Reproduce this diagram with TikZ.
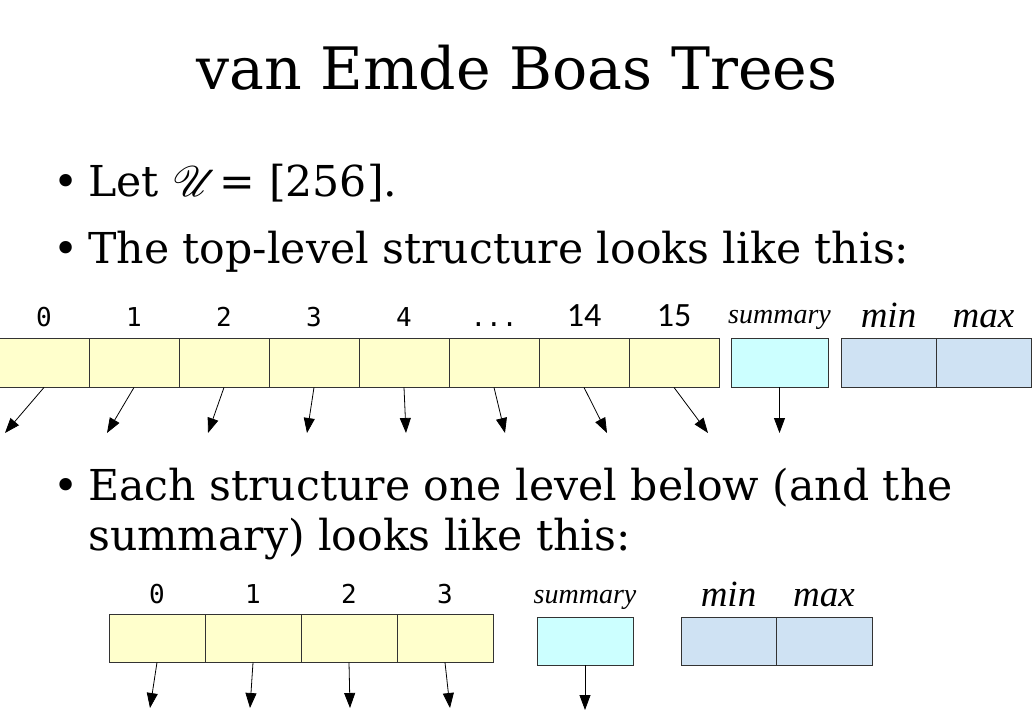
\documentclass[tikz,border=0pt]{standalone}
\usepackage{fontspec}
\usetikzlibrary{arrows.meta}
\setmainfont{DejaVu Serif}
\setmonofont{DejaVu Sans Mono}
\newfontfamily\slotfont{Liberation Serif}
\newfontfamily\widefont{Carlito}
\DeclareFontFamily{U}{vebrsfs}{\skewchar\font127 }
\DeclareFontShape{U}{vebrsfs}{m}{n}{<-> rsfs10}{}
\newcommand{\univ}{{\usefont{U}{vebrsfs}{m}{n}U}}
\definecolor{vebCluster}{HTML}{FFFFCC}
\definecolor{vebSummary}{HTML}{CCFFFF}
\definecolor{vebMinMax}{HTML}{CFE2F3}
\definecolor{vebEdge}{HTML}{333333}
\newcommand{\gapdots}{...}
\newcommand{\bigidx}[1]{{\widefont\fontsize{34}{34}\selectfont #1}}

\begin{document}
\begin{tikzpicture}[x=1pt, y=-1pt,
    cell/.style={draw=vebEdge, line width=0.9pt, inner sep=0pt, minimum height=48pt},
    idx/.style={anchor=base, inner sep=0pt, font=\fontsize{26}{26}\selectfont\ttfamily},
    slot/.style={anchor=base, inner sep=0pt, font=\fontsize{37}{37}\selectfont\slotfont\itshape},
    sumlab/.style={anchor=base, inner sep=0pt, font=\fontsize{28}{28}\selectfont\slotfont\itshape},
    ptr/.style={-{Triangle[length=15pt,width=11pt]}, line width=0.8pt},
    line/.style={anchor=base west, inner sep=0pt, font=\fontsize{42.6}{50}\selectfont}]
  \useasboundingbox (0,0) rectangle (1035,715);

  \node[anchor=base, inner sep=0pt, font=\fontsize{58.5}{58.5}\selectfont] (title) at (517,89) {van Emde Boas Trees};

  \node[line] (dot1) at (53,196) {\textbullet};
  \node[line] (txt1) at (88,196) {Let \univ{} = [256].};
  \node[line] (dot2) at (53,263) {\textbullet};
  \node[line] (txt2) at (88,263) {The top-level structure looks like this:};

  % top level: 16 clusters, summary, min/max
  \foreach \i/\lab/\tx in {0/0/5, 1/1/107, 2/2/208, 3/3/307, 4/4/406, 5/\gapdots/505, 6/\bigidx{14}/607, 7/\bigidx{15}/708} {
    \node[cell, fill=vebCluster, minimum width=90pt, minimum height=49pt] (top\i) at ({44+90*\i},362.5) {};
    \node[idx] (topl\i) at ({44+90*\i},326) {\lab};
    \coordinate (tope\i) at (\tx,433);
    \draw[ptr] (top\i.south) -- (tope\i);
  }
  \node[cell, fill=vebSummary, minimum width=97pt, minimum height=49pt] (topsum) at (779.5,362.5) {};
  \node[sumlab] (topsuml) at (779.5,323) {summary};
  \coordinate (topsume) at (779.5,433);
  \draw[ptr] (topsum.south) -- (topsume);
  \node[cell, fill=vebMinMax, minimum width=95pt, minimum height=49pt] (topmin) at (888.5,362.5) {};
  \node[cell, fill=vebMinMax, minimum width=95pt, minimum height=49pt] (topmax) at (983.5,362.5) {};
  \node[slot] (topminl) at (888.5,327) {min};
  \node[slot] (topmaxl) at (983.5,327) {max};

  \node[line] (dot3) at (53,500) {\textbullet};
  \node[line] (txt3) at (88,500) {Each structure one level below (and the};
  \node[line] (txt4) at (88,550) {summary) looks like this:};

  % one level below: 4 clusters, summary, min/max
  \foreach \i/\tx in {0/150, 1/250, 2/350, 3/450} {
    \node[cell, fill=vebCluster, minimum width=96pt] (low\i) at ({157+96*\i},638) {};
    \node[idx] (lowl\i) at ({157+96*\i},603) {\i};
    \coordinate (lowe\i) at (\tx,708);
    \draw[ptr] (low\i.south) -- (lowe\i);
  }
  \node[cell, fill=vebSummary, minimum width=96pt] (lowsum) at (585,641) {};
  \node[sumlab] (lowsuml) at (585,603) {summary};
  \coordinate (lowsume) at (585,710);
  \draw[ptr] (lowsum.south) -- (lowsume);
  \node[cell, fill=vebMinMax, minimum width=95pt] (lowmin) at (728.5,641) {};
  \node[cell, fill=vebMinMax, minimum width=96pt] (lowmax) at (824,641) {};
  \node[slot] (lowminl) at (728.5,606) {min};
  \node[slot] (lowmaxl) at (824,606) {max};
\end{tikzpicture}
\end{document}
